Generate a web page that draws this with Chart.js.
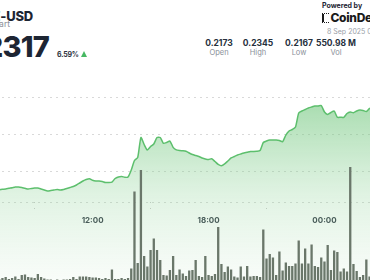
<!DOCTYPE html>
<html>
<head>
<meta charset="utf-8">
<script src="https://cdn.jsdelivr.net/npm/chart.js@4.4.1/dist/chart.umd.min.js"></script>
<style>
  html, body { margin: 0; padding: 0; background: #fff; }
  body { position: relative; width: 370px; height: 280px; overflow: hidden; font-family: Inter, "Liberation Sans", Arial, sans-serif; }
  .t { position: absolute; white-space: nowrap; line-height: 1; }
  #pair { right: 337px; top: 10px; font-size: 13px; font-weight: 800; color: #1d2533; letter-spacing: -0.2px; }
  #sub { right: 360px; top: 20px; font-size: 8.5px; color: #8a9099; }
  #price { right: 321px; top: 32px; font-size: 29px; font-weight: 800; color: #1d2533; letter-spacing: -0.8px; }
  #change { left: 57px; top: 50.5px; font-size: 7px; font-weight: 700; color: #2b3340; letter-spacing: -0.2px; }
  #arrow { position: absolute; left: 81px; top: 51px; width: 0; height: 0; border-left: 3.5px solid transparent; border-right: 3.5px solid transparent; border-bottom: 6px solid #46b862; }
  #powered { left: 322px; top: 2px; font-size: 7px; font-weight: 700; color: #1d2533; }
  #logo { left: 322px; top: 11.5px; font-size: 12px; font-weight: 800; color: #1a1a1a; letter-spacing: -0.3px; }
  #logo i { display: inline-block; width: 5px; height: 8px; border-left: 2px solid #1a1a1a; border-top: 1px dotted #1a1a1a; border-bottom: 1px dotted #1a1a1a; margin-right: 1.5px; vertical-align: -1px; }
  #date { left: 327px; top: 28px; font-size: 7px; color: #9aa0a8; }
  .sv { top: 39px; font-size: 8.5px; font-weight: 700; color: #26303d; transform: translateX(-50%); }
  .sn { top: 49px; font-size: 7.5px; color: #8a9099; transform: translateX(-50%); }
  #wrap { position: absolute; left: -4px; top: 60px; width: 380px; height: 230px; }
</style>
</head>
<body>
<div class="t" id="pair">DOGE-USD</div>
<div class="t" id="sub">Chart</div>
<div class="t" id="price">0.2317</div>
<div class="t" id="change">6.59%</div>
<div id="arrow"></div>
<div class="t" id="powered">Powered by</div>
<div class="t" id="logo"><i></i>CoinDesk</div>
<div class="t" id="date">8 Sep 2025 04:20 UTC</div>
<div id="stats"></div>
<div id="wrap"><canvas id="chart"></canvas></div>
<script>
// 10-minute steps starting at 07:00
const startMinutes = 7 * 60;
const stepMinutes = 10;

const tickLabels = ['12:00', '18:00', '00:00'];
const gridPrices = [0.225, 0.230, 0.235, 0.22081];

const statValues = ['0.2173', '0.2345', '0.2167', '550.98 M'];
const statNames = ['Open', 'High', 'Low', 'Vol'];
const statCenters = [219, 258, 299, 336];

const priceValues = [
  0.22243, 0.22247, 0.22253, 0.22257, 0.22266, 0.22274, 0.22284, 0.22284, 0.22277, 0.22266,
  0.22257, 0.22264, 0.22270, 0.22270, 0.22257, 0.22243, 0.22230, 0.22236, 0.22243, 0.22250,
  0.22243, 0.22250, 0.22264, 0.22277, 0.22291, 0.22311, 0.22338, 0.22365, 0.22385, 0.22396,
  0.22374, 0.22365, 0.22365, 0.22358, 0.22345, 0.22345, 0.22351, 0.22399, 0.22419, 0.22426,
  0.22415, 0.22419, 0.22514, 0.22642, 0.22682, 0.22953, 0.22858, 0.22784, 0.22831, 0.22865,
  0.22953, 0.22953, 0.22874, 0.22885, 0.22905, 0.22820, 0.22786, 0.22777, 0.22773, 0.22766,
  0.22743, 0.22723, 0.22709, 0.22696, 0.22676, 0.22662, 0.22655, 0.22666, 0.22628, 0.22588,
  0.22570, 0.22595, 0.22635, 0.22676, 0.22696, 0.22716, 0.22730, 0.22743, 0.22753, 0.22764,
  0.22764, 0.22766, 0.22777, 0.22885, 0.22905, 0.22919, 0.22919, 0.22919, 0.22912, 0.22896,
  0.22986, 0.23041, 0.23061, 0.23095, 0.23284, 0.23311, 0.23331, 0.23351, 0.23365, 0.23378,
  0.23378, 0.23385, 0.23297, 0.23264, 0.23291, 0.23311, 0.23226, 0.23226, 0.23226, 0.23277,
  0.23297, 0.23288, 0.23311, 0.23324, 0.23318, 0.23304, 0.23345, 0.23345, 0.23345
];

// volume per 10 minutes, millions
const volumeValues = [
  2.2, 2.2, 2.4, 2.6, 2.2, 2.4, 2.7, 2.2, 3.0, 3.1,
  2.6, 2.5, 2.4, 3.2, 2.6, 2.3, 2.1, 2.1, 2.0, 2.1,
  2.0, 2.1, 2.1, 2.2, 2.6, 2.2, 2.7, 2.7, 2.7, 2.6,
  2.5, 2.5, 2.4, 2.2, 2.4, 2.2, 4.1, 2.2, 2.2, 2.4,
  2.2, 2.4, 4.3, 19.7, 5.4, 24.0, 6.8, 4.7, 8.0, 10.3,
  8.0, 6.0, 3.0, 2.9, 4.0, 6.8, 3.0, 4.1, 3.3, 2.8,
  3.9, 4.0, 6.0, 2.8, 2.6, 6.8, 3.0, 2.8, 3.2, 12.6,
  5.2, 3.6, 4.7, 4.1, 2.7, 2.5, 4.7, 2.7, 4.8, 2.7,
  2.8, 2.8, 2.6, 12.1, 6.3, 7.2, 6.5, 3.0, 7.7, 3.9,
  5.5, 4.8, 4.8, 5.3, 9.9, 5.3, 8.3, 5.3, 9.1, 4.8,
  4.6, 6.5, 5.7, 9.0, 4.0, 7.9, 7.6, 3.7, 4.3, 3.7,
  24.6, 5.2, 3.8, 2.6, 3.0, 6.1, 2.7, 3.0, 3.6
];

const timeLabels = priceValues.map((_, i) => {
  const m = (startMinutes + i * stepMinutes) % (24 * 60);
  return String(Math.floor(m / 60)).padStart(2, '0') + ':' + String(m % 60).padStart(2, '0');
});

// Stats row
const stats = document.getElementById('stats');
statValues.forEach((v, i) => {
  stats.innerHTML += `<div class="t sv" style="left:${statCenters[i]}px">${v}</div>` +
    `<div class="t sn" style="left:${statCenters[i]}px">${statNames[i]}</div>`;
});

const ctx = document.getElementById('chart').getContext('2d');
new Chart(ctx, {
  data: {
    labels: timeLabels,
    datasets: [{
      type: 'bar',
      data: volumeValues,
      yAxisID: 'y1',
      backgroundColor: '#6a776a',
      barPercentage: 1,
      categoryPercentage: 0.72,
      order: 0
    }, {
      type: 'line',
      data: priceValues,
      yAxisID: 'y',
      borderColor: '#5dbf6d',
      borderWidth: 1.5,
      pointRadius: 0,
      tension: 0.2,
      fill: 'start',
      backgroundColor: function(context) {
        const area = context.chart.chartArea;
        if (!area) return 'rgba(110,195,120,0.3)';
        const g = context.chart.ctx.createLinearGradient(0, area.top + 40, 0, area.bottom);
        g.addColorStop(0, 'rgba(108,196,120,0.6)');
        g.addColorStop(0.5, 'rgba(140,210,150,0.27)');
        g.addColorStop(1, 'rgba(170,220,175,0.05)');
        return g;
      },
      order: 1
    }]
  },
  options: {
    responsive: true,
    maintainAspectRatio: false,
    devicePixelRatio: 1,
    animation: false,
    layout: { padding: 0, autoPadding: false },
    plugins: { legend: { display: false }, tooltip: { enabled: false } },
    scales: {
      x: {
        type: 'category',
        position: { y: 0.22081 },
        offset: false,
        grid: {
          display: true,
          drawOnChartArea: false,
          drawTicks: true,
          tickLength: 7,
          tickColor: '#c9c9c9',
          tickBorderDash: [1, 5]
        },
        border: { display: false },
        ticks: {
          autoSkip: false,
          maxRotation: 0,
          padding: 7,
          color: '#333b46',
          font: { family: 'Inter', size: 8, weight: 'bold' },
          callback: function(value) {
            const label = this.getLabelForValue(value);
            return tickLabels.includes(label) ? label : null;
          }
        }
      },
      y: {
        min: 0.20892,
        max: 0.24,
        border: { display: false, dash: [2, 4] },
        grid: { color: '#d9d9d9', drawTicks: false },
        ticks: { display: false },
        afterBuildTicks: function(scale) {
          scale.ticks = gridPrices.map(v => ({ value: v }));
        }
      },
      y1: {
        display: false,
        min: 0,
        max: 46
      }
    }
  }
});
</script>
</body>
</html>
